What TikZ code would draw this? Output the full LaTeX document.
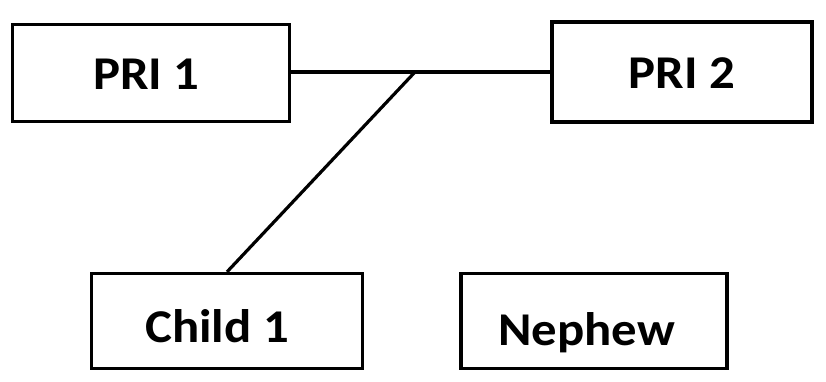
\documentclass[tikz,border=0pt]{standalone}
\usepackage{fontspec}
\setmainfont{Carlito}[FakeStretch=1.08]
\newcommand{\boxtext}[3]{\hspace*{#1}\raisebox{#2}{#3}}
\begin{document}
\begin{tikzpicture}[x=1pt,y=-1pt,
  box/.style={draw=black, line width=3.2pt, inner sep=0pt, text height=33pt, text depth=0pt,
    font=\fontsize{47}{54}\selectfont\bfseries},
  link/.style={draw=black, line width=3.2pt}]
\useasboundingbox[fill=white] (0,0) rectangle (826,381);
\node[box, minimum width=277pt, minimum height=97pt] (p1) at (151,73) {\boxtext{-9pt}{0pt}{PRI 1}};
\node[box, minimum width=260pt, minimum height=100pt] (p2) at (682,72) {\boxtext{0pt}{0pt}{PRI 2}};
\node[box, minimum width=271pt, minimum height=95pt] (c1) at (227,321) {\boxtext{-20pt}{-4.5pt}{Child 1}};
\node[box, minimum width=266pt, minimum height=95pt] (n1) at (594,321) {\boxtext{-15pt}{-7.5pt}{Nephew}};
\coordinate (j) at (415,72);
\draw[link] (p1.east |- j) -- (p2.west |- j);
\draw[link] (j) -- (c1.north);
\end{tikzpicture}
\end{document}
